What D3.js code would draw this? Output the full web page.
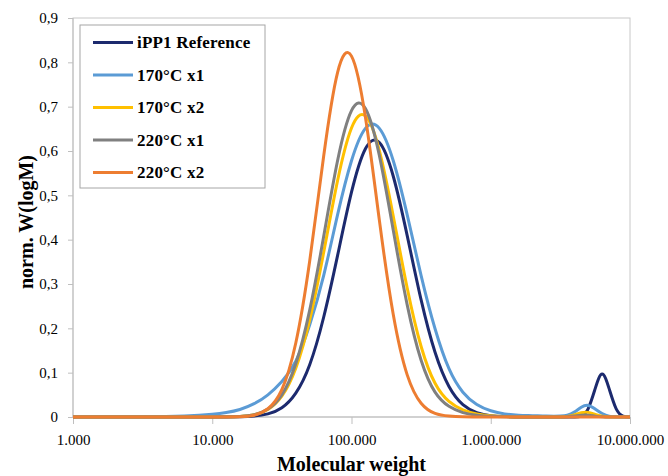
<!DOCTYPE html>
<html>
<head>
<meta charset="utf-8">
<script src="https://cdn.jsdelivr.net/npm/d3@7"></script>
<style>
  body { margin: 0; background: #fff; }
  .tick text { font-family: "Liberation Serif", "Times New Roman", serif; font-size: 15px; fill: #000; }
  .tick line { stroke: #bfbfbf; }
  .axisTitle { font-family: "Liberation Serif", "Times New Roman", serif; font-weight: bold; font-size: 20px; fill: #000; }
  .legendText { font-family: "Liberation Serif", "Times New Roman", serif; font-weight: bold; font-size: 17px; letter-spacing: 0.2px; fill: #000; }
</style>
</head>
<body>
<div class="chart"></div>
<script>
// molecular weight sampling points (log grid)
var molWeight = [1000, 3160, 6310, 10000, 12600, 15800, 20000, 25100, 31600, 39800,
  50100, 63100, 79400, 100000, 125900, 158500, 199500, 251200, 316200, 398100,
  501200, 631000, 794300, 1000000, 1258900, 1584900, 1995300, 2511900, 3162300, 3548100,
  3981100, 4466800, 5011900, 5623400, 6309600, 7079500, 7943300, 8912500, 10000000];

var seriesNames = ["iPP1 Reference", "170°C x1", "170°C x2", "220°C x1", "220°C x2"];

var iPP1Ref = [0, 0, 0, 0, 0.0001, 0.0005, 0.002, 0.007, 0.021, 0.054,
  0.118, 0.225, 0.364, 0.507, 0.605, 0.619, 0.543, 0.409, 0.264, 0.146,
  0.069, 0.028, 0.010, 0.003, 0.001, 0, 0, 0, 0, 0,
  0.0001, 0.002, 0.019, 0.064, 0.097, 0.064, 0.019, 0.002, 0];

var t170x1 = [0, 0, 0.002, 0.006, 0.010, 0.017, 0.030, 0.050, 0.080, 0.126,
  0.208, 0.319, 0.456, 0.578, 0.651, 0.651, 0.578, 0.456, 0.319, 0.199,
  0.109, 0.056, 0.028, 0.014, 0.007, 0.004, 0.003, 0.002, 0.002, 0.004,
  0.011, 0.022, 0.026, 0.018, 0.008, 0.002, 0.0003, 0, 0];

var t170x2 = [0, 0, 0, 0.0001, 0.0003, 0.0014, 0.005, 0.017, 0.047, 0.110,
  0.219, 0.371, 0.533, 0.652, 0.679, 0.601, 0.453, 0.291, 0.159, 0.076,
  0.035, 0.016, 0.007, 0.003, 0.001, 0, 0, 0, 0, 0.001,
  0.0045, 0.0097, 0.0104, 0.0056, 0.0015, 0.0002, 0, 0, 0];

var t220x1 = [0, 0, 0, 0, 0.0003, 0.0013, 0.005, 0.018, 0.050, 0.120,
  0.241, 0.407, 0.578, 0.691, 0.696, 0.590, 0.421, 0.253, 0.128, 0.056,
  0.024, 0.010, 0.004, 0.0015, 0.0005, 0, 0, 0, 0, 0.0005,
  0.002, 0.004, 0.004, 0.002, 0.0005, 0, 0, 0, 0];

var t220x2 = [0, 0, 0, 0, 0.0001, 0.0008, 0.004, 0.019, 0.062, 0.167,
  0.352, 0.588, 0.777, 0.814, 0.676, 0.444, 0.231, 0.095, 0.031, 0.008,
  0.002, 0.0003, 0, 0, 0, 0, 0, 0, 0, 0,
  0, 0, 0, 0, 0, 0, 0, 0, 0];

var xTickValues = [1000, 10000, 100000, 1000000, 10000000];
var xTickLabels = ["1.000", "10.000", "100.000", "1.000.000", "10.000.000"];
var yTickValues = [0, 0.1, 0.2, 0.3, 0.4, 0.5, 0.6, 0.7, 0.8, 0.9];
var yTickLabels = ["0", "0,1", "0,2", "0,3", "0,4", "0,5", "0,6", "0,7", "0,8", "0,9"];

var colors = ["#1c2a6e", "#5b9bd5", "#ffc000", "#808080", "#ed7d31"];

var svgWidth = 668;
var svgHeight = 476;
var margin = { top: 18, right: 38, bottom: 59, left: 73 };
var width = svgWidth - margin.left - margin.right;
var height = svgHeight - margin.top - margin.bottom;

var svg = d3.select(".chart")
  .append("svg")
  .attr("width", svgWidth)
  .attr("height", svgHeight);

var chartGroup = svg.append("g")
  .attr("transform", `translate(${margin.left}, ${margin.top})`);

var xScale = d3.scaleLog().domain([1000, 10000000]).range([0, width]);
var yScale = d3.scaleLinear().domain([0, 0.9]).range([height, 0]);

// plot area border
chartGroup.append("rect")
  .attr("x", 0).attr("y", 0)
  .attr("width", width).attr("height", height)
  .attr("fill", "none")
  .attr("stroke", "#c8c8c8");

var xAxis = d3.axisBottom(xScale)
  .tickValues(xTickValues)
  .tickSize(7)
  .tickPadding(10)
  .tickFormat((d, i) => xTickLabels[i]);

var yAxis = d3.axisLeft(yScale)
  .tickValues(yTickValues)
  .tickSize(5)
  .tickPadding(10)
  .tickFormat((d, i) => yTickLabels[i]);

chartGroup.append("g")
  .attr("transform", `translate(0, ${height})`)
  .call(xAxis)
  .call(g => g.select(".domain").remove());

chartGroup.append("g")
  .call(yAxis)
  .call(g => g.select(".domain").remove());

// left and bottom axis lines
chartGroup.append("line").attr("x1", 0).attr("x2", 0).attr("y1", 0).attr("y2", height).attr("stroke", "#bfbfbf");
chartGroup.append("line").attr("x1", 0).attr("x2", width).attr("y1", height).attr("y2", height).attr("stroke", "#bfbfbf");

var allSeries = [iPP1Ref, t170x1, t170x2, t220x1, t220x2];

var line = d3.line()
  .x(d => xScale(d[0]))
  .y(d => yScale(d[1]))
  .curve(d3.curveNatural);

allSeries.forEach(function(vals, i) {
  var pts = molWeight.map((m, j) => [m, vals[j]]);
  chartGroup.append("path")
    .datum(pts)
    .attr("d", line)
    .attr("fill", "none")
    .attr("stroke", colors[i])
    .attr("stroke-width", 3)
    .attr("stroke-linejoin", "round");
});

// legend
var legend = svg.append("g").attr("transform", "translate(80, 25)");
legend.append("rect")
  .attr("width", 185)
  .attr("height", 163)
  .attr("fill", "#fff")
  .attr("stroke", "#a6a6a6");

seriesNames.forEach(function(name, i) {
  var ly = 17.5 + i * 32.5;
  legend.append("line")
    .attr("x1", 13).attr("x2", 53)
    .attr("y1", ly).attr("y2", ly)
    .attr("stroke", colors[i])
    .attr("stroke-width", 3);
  legend.append("text")
    .attr("class", "legendText")
    .attr("x", 57)
    .attr("y", ly)
    .attr("dy", "0.35em")
    .text(name);
});

// axis titles
svg.append("text")
  .attr("class", "axisTitle")
  .attr("text-anchor", "middle")
  .attr("transform", `translate(33, 222) rotate(-90)`)
  .text("norm. W(logM)");

svg.append("text")
  .attr("class", "axisTitle")
  .attr("text-anchor", "middle")
  .attr("x", margin.left + width / 2)
  .attr("y", 471)
  .text("Molecular weight");
</script>
</body>
</html>
